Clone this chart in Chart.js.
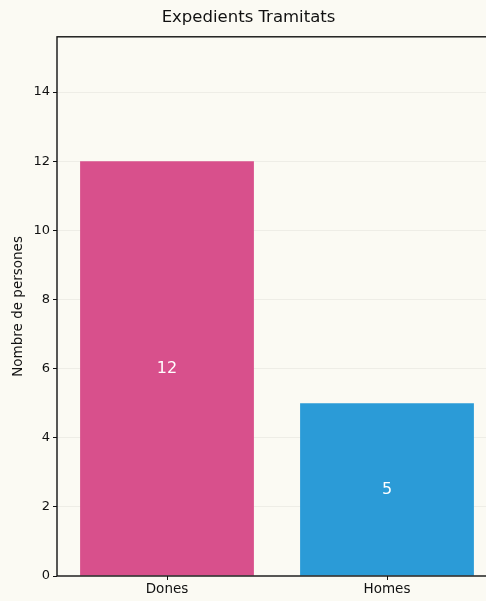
<!DOCTYPE html>
<html>
<head>
<meta charset="utf-8">
<script src="https://cdn.jsdelivr.net/npm/chart.js@4/dist/chart.umd.min.js"></script>
<style>
  html, body { margin: 0; padding: 0; background: #fbfaf3; overflow: hidden; }
  #clip { width: 486px; height: 601px; overflow: hidden; }
  #wrap { width: 498px; height: 601px; }
</style>
</head>
<body>
<div id="clip"><div id="wrap"><canvas id="c"></canvas></div></div>
<script>
  // data
  const categories = ["Dones", "Homes"];
  const values = [12, 5];
  const barColors = ["#d8508c", "#2b9bd7"];
  const yTicks = [0, 2, 4, 6, 8, 10, 12, 14];

  const FONT = "'DejaVu Sans', sans-serif";
  const ink = "#111111";

  // white value text in the middle of each bar
  const valueLabels = {
    id: "valueLabels",
    afterDatasetsDraw(chart) {
      const { ctx } = chart;
      const yScale = chart.scales.y;
      chart.getDatasetMeta(0).data.forEach((bar, i) => {
        const yMid = yScale.getPixelForValue(values[i] / 2);
        ctx.save();
        ctx.fillStyle = "#ffffff";
        ctx.font = "16px " + FONT;
        ctx.textAlign = "center";
        ctx.textBaseline = "middle";
        ctx.fillText(String(values[i]), bar.x, yMid);
        ctx.restore();
      });
    },
  };

  // matplotlib-style box round the axes
  const frame = {
    id: "frame",
    afterDraw(chart) {
      const { ctx, chartArea: a } = chart;
      ctx.save();
      ctx.strokeStyle = ink;
      ctx.lineWidth = 1.4;
      ctx.strokeRect(a.left, a.top, a.right - a.left, a.bottom - a.top);
      ctx.restore();
    },
  };

  new Chart(document.getElementById("c"), {
    type: "bar",
    data: {
      labels: categories,
      datasets: [{
        data: values,
        backgroundColor: barColors,
        barPercentage: 0.79,
        categoryPercentage: 1,
      }],
    },
    options: {
      responsive: true,
      maintainAspectRatio: false,
      animation: false,
      layout: { padding: { left: 0, right: 1, top: 0, bottom: 0 } },
      plugins: {
        legend: { display: false },
        tooltip: { enabled: false },
        title: {
          display: true,
          text: "Expedients Tramitats",
          color: ink,
          font: { family: FONT, size: 16.5, weight: "normal" },
          padding: { top: 8, bottom: 9 },
        },
      },
      scales: {
        x: {
          afterFit: (s) => { s.height = 25; },
          ticks: {
            color: ink,
            font: { family: FONT, size: 13.5 },
            padding: 1,
          },
          grid: { drawOnChartArea: false, drawTicks: true, tickLength: 4, color: ink, offset: false },
          border: { display: false },
        },
        y: {
          min: 0,
          max: 15.6,
          afterBuildTicks: (s) => { s.ticks = yTicks.map((v) => ({ value: v })); },
          afterFit: (s) => { s.width = 57; },
          ticks: {
            color: ink,
            font: { family: FONT, size: 13 },
            padding: 3,
          },
          grid: {
            color: (c) => (c.tick && c.tick.value > 0 ? "rgba(0,0,0,0.05)" : "rgba(0,0,0,0)"),
            tickColor: ink,
            tickLength: 4,
            lineWidth: 1,
          },
          border: { display: false },
          title: {
            display: true,
            text: "Nombre de persones",
            color: ink,
            font: { family: FONT, size: 13.5 },
            padding: { top: 10, bottom: 0 },
          },
        },
      },
    },
    plugins: [valueLabels, frame],
  });
</script>
</body>
</html>
